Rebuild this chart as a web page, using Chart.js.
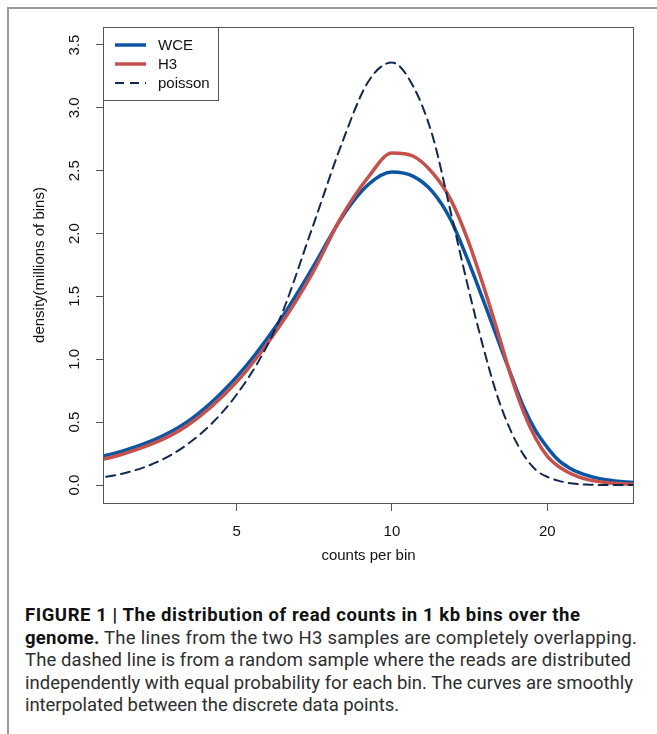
<!DOCTYPE html>
<html>
<head>
<meta charset="utf-8">
<script src="https://cdn.jsdelivr.net/npm/chart.js@4"></script>
<style>
  body { margin: 0; background: #fff; }
  #page { position: relative; width: 657px; height: 734px; overflow: hidden; }
  #frame { position: absolute; left: 7px; top: 7px; width: 660px; height: 740px;
           border-top: 2px solid #9a9a9a; border-left: 2px solid #9a9a9a; }
  #chartBox { position: absolute; left: 0; top: 0; width: 657px; height: 580px; }
  #caption { position: absolute; left: 25px; top: 604px; font-family: Roboto, "Liberation Sans", sans-serif;
             font-size: 18.5px; line-height: 22.6px; color: #2e2e2e; font-weight: 400; white-space: nowrap; }
  #caption div { display: inline-block; }
  #caption b { color: #111; font-weight: 700; }
</style>
</head>
<body>
<div id="page">
  <div id="frame"></div>
  <div id="chartBox"><canvas id="densityChart" width="657" height="580"></canvas></div>
  <div id="caption">
    <div data-w="555"><b>FIGURE 1 | The distribution of read counts in 1 kb bins over the</b></div><br>
    <div data-w="612"><b>genome.</b> The lines from the two H3 samples are completely overlapping.</div><br>
    <div data-w="606">The dashed line is from a random sample where the reads are distributed</div><br>
    <div data-w="608">independently with equal probability for each bin. The curves are smoothly</div><br>
    <div data-w="374">interpolated between the discrete data points.</div>
  </div>
</div>
<script>
// counts per bin (x) and densities in millions of bins
const counts  = [2, 3, 4, 5, 6, 7, 8, 9, 10, 11, 12, 13, 14, 15, 16, 17, 18, 19, 20, 21, 22, 23, 24, 25, 26, 27, 28, 29, 30];
const wce     = [0.14, 0.27, 0.50, 0.86, 1.28, 1.72, 2.13, 2.39, 2.49, 2.455, 2.33, 2.11, 1.80, 1.48, 1.17, 0.88, 0.62, 0.43, 0.30, 0.20, 0.14, 0.10, 0.075, 0.055, 0.042, 0.033, 0.027, 0.022, 0.018];
const h3      = [0.11, 0.245, 0.47, 0.82, 1.24, 1.68, 2.14, 2.45, 2.64, 2.615, 2.48, 2.27, 1.96, 1.60, 1.23, 0.87, 0.58, 0.37, 0.23, 0.15, 0.10, 0.065, 0.043, 0.029, 0.02, 0.014, 0.01, 0.007, 0.005];
const poisson = [0.03, 0.09, 0.32, 0.72, 1.28, 2.04, 2.72, 3.21, 3.36, 3.17, 2.77, 2.17, 1.60, 1.11, 0.71, 0.43, 0.24, 0.12, 0.065, 0.035, 0.016, 0.007, 0.003, 0.001, 0, 0, 0, 0, 0];

const xTicks = [5, 10, 20];
const yTicks = [0, 0.5, 1, 1.5, 2, 2.5, 3, 3.5];

const font = '"Liberation Sans", Arial, sans-serif';

function points(values) {
    return counts.map((c, i) => ({x: c, y: values[i]}));
}

// stretch each caption line to the width it has in the printed figure
function fitCaption() {
    document.querySelectorAll('#caption div').forEach(el => {
        const target = +el.dataset.w;
        const n = el.textContent.length;
        const gap = (target - el.getBoundingClientRect().width) / (n - 1);
        el.style.letterSpacing = gap.toFixed(3) + 'px';
    });
}
fitCaption();

// box around the plot region + legend in the top left corner
const plotBox = {
    id: 'plotBox',
    afterDraw(chart) {
        const ctx = chart.ctx, a = chart.chartArea;
        ctx.save();
        ctx.strokeStyle = '#555';
        ctx.lineWidth = 1;
        ctx.strokeRect(a.left + 0.5, a.top + 0.5, a.width - 1, a.height);

        ctx.fillStyle = '#fff';
        ctx.fillRect(a.left + 0.5, a.top + 0.5, 115, 73);
        ctx.strokeRect(a.left + 0.5, a.top + 0.5, 115, 73);
        chart.data.datasets.forEach((ds, i) => {
            const y = a.top + 18 + i * 19;
            ctx.beginPath();
            ctx.setLineDash(ds.borderDash || []);
            ctx.lineWidth = ds.borderWidth;
            ctx.strokeStyle = ds.borderColor;
            ctx.moveTo(a.left + 12, y);
            ctx.lineTo(a.left + 43, y);
            ctx.stroke();
            ctx.setLineDash([]);
            ctx.fillStyle = '#111';
            ctx.font = '15px ' + font;
            ctx.textBaseline = 'middle';
            ctx.fillText(ds.label, a.left + 55, y + 1);
        });
        ctx.restore();
    }
};

new Chart(document.getElementById('densityChart'), {
    type: 'line',
    data: {
        datasets: [
            {label: 'WCE', data: points(wce), borderColor: '#0b55a3', borderWidth: 3.5, order: 3},
            {label: 'H3', data: points(h3), borderColor: '#c5504c', borderWidth: 3.5, order: 2},
            {label: 'poisson', data: points(poisson), borderColor: '#13284f', borderWidth: 2, borderDash: [9, 6], order: 1}
        ]
    },
    options: {
        responsive: false,
        animation: false,
        layout: {padding: {left: 0, top: 27, right: 23, bottom: 15}},
        elements: {
            point: {radius: 0},
            line: {cubicInterpolationMode: 'monotone', fill: false, borderCapStyle: 'round'}
        },
        datasets: {line: {clip: 0}},
        plugins: {legend: {display: false}, tooltip: {enabled: false}},
        scales: {
            x: {
                type: 'logarithmic',
                min: 2.753,
                max: 29.46,
                bounds: 'data',
                afterBuildTicks: s => { s.ticks = xTicks.map(v => ({value: v})); },
                afterFit: s => { s.height = 62; },
                border: {display: false},
                grid: {drawOnChartArea: false, drawTicks: true, tickLength: 8, color: '#555', lineWidth: 1},
                ticks: {font: {family: font, size: 15}, color: '#111', padding: 12, callback: v => String(v), maxRotation: 0},
                title: {display: true, text: 'counts per bin', font: {family: font, size: 15}, color: '#111', padding: {top: 0, bottom: 0}}
            },
            y: {
                min: -0.143,
                max: 3.643,
                bounds: 'data',
                afterBuildTicks: s => { s.ticks = yTicks.map(v => ({value: v})); },
                afterFit: s => { s.width = 103; },
                border: {display: false},
                grid: {drawOnChartArea: false, drawTicks: true, tickLength: 7, color: '#555', lineWidth: 1},
                ticks: {font: {family: font, size: 15}, color: '#111', padding: 11, minRotation: 90, maxRotation: 90,
                        crossAlign: 'center', callback: v => v.toFixed(1)},
                title: {display: true, text: 'density(millions of bins)', font: {family: font, size: 15}, color: '#111', padding: {top: 31, bottom: 0}}
            }
        }
    },
    plugins: [plotBox]
});
</script>
</body>
</html>
